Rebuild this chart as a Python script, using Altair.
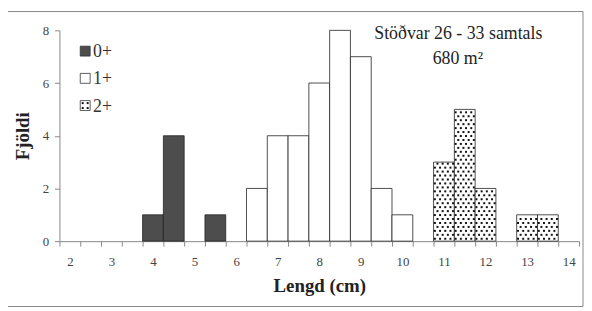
import altair as alt
import pandas as pd

# ---- data ----
bins = ["2", "2.5", "3", "3.5", "4", "4.5", "5", "5.5", "6", "6.5", "7", "7.5",
        "8", "8.5", "9", "9.5", "10", "10.5", "11", "11.5", "12", "12.5", "13",
        "13.5", "14"]
groups = ["0+", "1+", "2+"]
g0_bins = ["4", "4.5", "5.5"]
g0_counts = [1, 4, 1]
g1_bins = ["6.5", "7", "7.5", "8", "8.5", "9", "9.5", "10"]
g1_counts = [2, 4, 4, 6, 8, 7, 2, 1]
g2_bins = ["11", "11.5", "12", "13", "13.5"]
g2_counts = [3, 5, 2, 1, 1]
y_ticks = [0, 1, 2, 3, 4, 5, 6, 7, 8]
note1 = "Stöðvar 26 - 33 samtals"
note2 = "680 m²"

rows = []
for g, bs, cs in zip(groups, [g0_bins, g1_bins, g2_bins], [g0_counts, g1_counts, g2_counts]):
    for b, c in zip(bs, cs):
        rows.append({"bin": b, "count": c, "group": g})
df = pd.DataFrame(rows)

# dotted fill pattern for 2+ bars (derived from counts)
dot_step = 0.15
dots = []
for b, c in zip(g2_bins, g2_counts):
    r = 0
    while 0.09 + r * dot_step < c - 0.05:
        cols = [0, 2, 4, 6] if r % 2 == 0 else [1, 3, 5, 7]
        for k in cols:
            dots.append({"bin": b, "sub": k, "yv": 0.09 + r * dot_step})
        r += 1
dots_df = pd.DataFrame(dots)

W, H = 525, 213
FONT = "Liberation Serif"

xscale = alt.Scale(type="band", domain=bins, paddingInner=0, paddingOuter=0)
yscale = alt.Scale(domain=[0, 8], nice=False)

xaxis = alt.Axis(
    title="Lengd (cm)", labelAngle=0, tickBand="extent",
    labelExpr="indexof(datum.label, '.') >= 0 ? '' : datum.label",
    labelPadding=10, tickSize=5, titlePadding=8,
)
yaxis = alt.Axis(
    title="Fjöldi", values=y_ticks, grid=False,
    labelExpr="datum.value % 2 == 0 ? datum.label : ''",
    tickSize=5, labelPadding=6, titlePadding=10,
)

bars = alt.Chart(df).mark_bar(stroke="#222", strokeWidth=0.8, width={"band": 1}).encode(
    x=alt.X("bin:N", scale=xscale, axis=xaxis),
    y=alt.Y("count:Q", scale=yscale, axis=yaxis),
    fill=alt.Fill("group:N", scale=alt.Scale(domain=groups, range=["#4d4d4d", "#ffffff", "#ffffff"]),
                  legend=None),
)

dotlayer = alt.Chart(dots_df).mark_square(size=4, color="#111", opacity=1).encode(
    x=alt.X("bin:N", scale=xscale),
    xOffset=alt.XOffset("sub:O", scale=alt.Scale(type="band", domain=list(range(8)), paddingInner=0, paddingOuter=0)),
    y=alt.Y("yv:Q", scale=yscale),
)

one = pd.DataFrame({"a": [0]})

# custom legend
leg_x, leg_y0, leg_dy = 26, 21, 27.5
leg_sq = []
leg_fills = ["#4d4d4d", "#ffffff", "#ffffff"]
for i, g in enumerate(groups):
    leg_sq.append(
        alt.Chart(one).mark_square(size=100, fill=leg_fills[i], stroke="#333", strokeWidth=0.8, opacity=1)
        .encode(x=alt.value(leg_x), y=alt.value(leg_y0 + i * leg_dy))
    )
    leg_sq.append(
        alt.Chart(one).mark_text(align="left", baseline="middle", font=FONT, fontSize=18, color="#333", text=g)
        .encode(x=alt.value(leg_x + 8), y=alt.value(leg_y0 + i * leg_dy + 1))
    )
for ddx in (-2.5, 2.5):
    for ddy in (-2.5, 2.5):
        leg_sq.append(
            alt.Chart(one).mark_square(size=4, color="#111", opacity=1)
            .encode(x=alt.value(leg_x + ddx), y=alt.value(leg_y0 + 2 * leg_dy + ddy))
        )

ann1 = alt.Chart(pd.DataFrame({"bin": ["11.5"], "v": [7.85], "t": [note1]})).mark_text(
    font=FONT, fontSize=18, color="#222", dx=-6.5, baseline="middle"
).encode(x=alt.X("bin:N", scale=xscale), y=alt.Y("v:Q", scale=yscale), text="t:N")
ann2 = alt.Chart(pd.DataFrame({"bin": ["11.5"], "v": [6.9], "t": [note2]})).mark_text(
    font=FONT, fontSize=18, color="#222", dx=-7, baseline="middle"
).encode(x=alt.X("bin:N", scale=xscale), y=alt.Y("v:Q", scale=yscale), text="t:N")

frame = alt.Chart(one).mark_rect(fill=None, stroke="#888", strokeWidth=1).encode(
    x=alt.value(-54), x2=alt.value(W + 4), y=alt.value(-19), y2=alt.value(H + 66)
)

chart = alt.layer(frame, bars, dotlayer, ann1, ann2, *leg_sq).properties(
    width=W, height=H,
    background="white",
    autosize=alt.AutoSizeParams(type="none"),
    padding={"left": 52, "top": 21, "right": 5, "bottom": 69},
).configure_view(stroke=None).configure_axis(
    labelFont=FONT, labelFontSize=13, labelColor="#444",
    titleFont=FONT, titleFontSize=19, titleFontWeight="bold", titleColor="#222",
    domainColor="#888", tickColor="#888", domainWidth=1, tickWidth=1,
).configure_text(font=FONT).configure_mark(font=FONT)

chart.save("out.html", embed_options={"renderer": "svg", "actions": False})
